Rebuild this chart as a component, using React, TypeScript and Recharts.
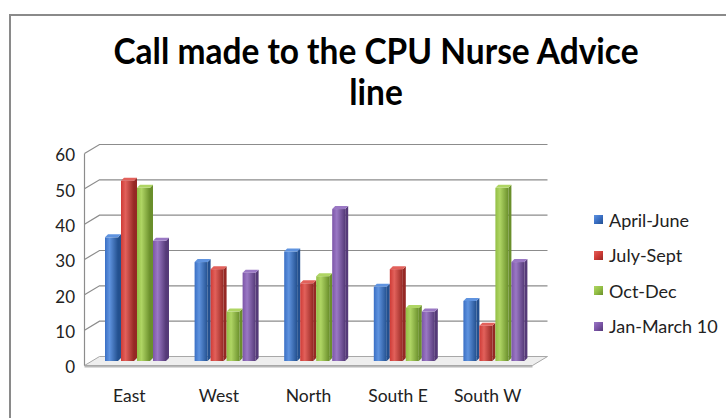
import { BarChart, Bar, XAxis, YAxis, CartesianGrid } from "recharts";

const regions = ["East", "West", "North", "South E", "South W"];
const aprilJune = [35, 28, 31, 21, 17];
const julySept = [51, 26, 22, 26, 10];
const octDec = [49, 14, 24, 15, 49];
const janMarch10 = [34, 25, 43, 14, 28];
const yTicks = [0, 10, 20, 30, 40, 50, 60];

const series = [
  { key: "aprilJune", name: "April-June", light: "#5f93df", base: "#3a6fc4", dark: "#23508f" },
  { key: "julySept", name: "July-Sept", light: "#e2615b", base: "#cf3b36", dark: "#952824" },
  { key: "octDec", name: "Oct-Dec", light: "#afd564", base: "#93bf45", dark: "#6a8f2b" },
  { key: "janMarch10", name: "Jan-March 10", light: "#9a78c4", base: "#7c55a8", dark: "#553a78" },
];

const data = regions.map((region, i) => ({
  region,
  aprilJune: aprilJune[i],
  julySept: julySept[i],
  octDec: octDec[i],
  janMarch10: janMarch10[i],
}));

const W = 726;
const H = 418;
const TOP = 149;
const XAXIS_H = 57;
const PLOT_BOTTOM = H - XAXIS_H;
// half depth of the 3d box (front plane vs back wall)
const DX = 7.5;
const DY = 4.5;
const FONT = "Lato, 'Open Sans', sans-serif";

function Bar3D(props: any) {
  const { x, y, width, height, s } = props;
  if (!height || height <= 0) return null;
  const d = 3;
  const fw = width - d;
  return (
    <g>
      <rect x={x} y={y} width={fw} height={height} fill={`url(#grad-${s.key})`} />
      <polygon
        points={`${x + fw},${y} ${x + width},${y - d} ${x + width},${y + height - d} ${x + fw},${y + height}`}
        fill={s.dark}
      />
      <polygon
        points={`${x},${y} ${x + d},${y - d} ${x + width},${y - d} ${x + fw},${y}`}
        fill={s.light}
      />
    </g>
  );
}

function GridLine(p: any) {
  const y = p.y1;
  const fl = p.x1 - DX;
  const bl = p.x1 + DX;
  const br = p.x2 + DX;
  const fr = p.x2 - DX;
  if (Math.abs(y - PLOT_BOTTOM) < 2) {
    return (
      <g key={p.key}>
        <rect x={fl} y={y + DY} width={fr - fl} height={2} fill="#b8b8b8" />
        <polygon
          points={`${fl},${y + DY} ${fr},${y + DY} ${br},${y - DY} ${bl},${y - DY}`}
          fill="#eeeeee"
          stroke="#a8a8a8"
          strokeWidth={1}
        />
      </g>
    );
  }
  return (
    <path
      key={p.key}
      d={`M${fl},${y + DY} L${bl},${y - DY} L${br},${y - DY}`}
      fill="none"
      stroke="#8c8c8c"
      strokeWidth={1.2}
    />
  );
}

function YTick({ x, y, payload }: any) {
  return (
    <text x={x - 17} y={y + 8} textAnchor="end" dominantBaseline="middle" fill="#222" fontSize={17} fontFamily={FONT}>
      {payload.value}
    </text>
  );
}

function XTick({ x, y, payload }: any) {
  return (
    <text x={x - DX} y={y + 37} textAnchor="middle" dominantBaseline="middle" fill="#222" fontSize={17.5} fontFamily={FONT}>
      {payload.value}
    </text>
  );
}

export default function App() {
  return (
    <div style={{ position: "absolute", left: 0, top: 0, width: W, height: H, overflow: "hidden", background: "#fff" }}>
      <div
        style={{
          position: "absolute",
          left: 9,
          top: 14,
          width: 740,
          height: 440,
          border: "2px solid #8a8a8a",
          boxSizing: "border-box",
        }}
      />
      <div
        style={{
          position: "absolute",
          left: 26,
          top: 30,
          width: 700,
          textAlign: "center",
          fontFamily: FONT,
          fontWeight: 700,
          fontSize: 36,
          lineHeight: "41px",
          color: "#000",
          transform: "scaleX(0.93)",
          transformOrigin: "350px 0",
        }}
      >
        Call made to the CPU Nurse Advice
        <br />
        line
      </div>
      <BarChart
        width={W}
        height={H}
        data={data}
        margin={{ top: TOP, right: 186, left: 0, bottom: 0 }}
        barCategoryGap="14%"
        barGap={0}
        style={{ position: "absolute", left: 0, top: 0 }}
      >
        <defs>
          {series.map((s) => (
            <linearGradient key={s.key} id={`grad-${s.key}`} x1="0" y1="0" x2="1" y2="0">
              <stop offset="0" stopColor={s.base} />
              <stop offset="0.35" stopColor={s.light} />
              <stop offset="1" stopColor={s.dark} />
            </linearGradient>
          ))}
        </defs>
        <CartesianGrid horizontal={GridLine} vertical={false} />
        <XAxis
          dataKey="region"
          height={XAXIS_H}
          axisLine={false}
          tickLine={false}
          tickSize={0}
          tickMargin={0}
          tick={<XTick />}
          interval={0}
        />
        <YAxis
          width={92}
          domain={[0, 60]}
          ticks={yTicks}
          axisLine={{ stroke: "#8c8c8c", strokeWidth: 1.2, transform: `translate(${-DX},${DY})` }}
          tickLine={false}
          tickSize={0}
          tickMargin={0}
          tick={<YTick />}
        />
        {series.map((s) => (
          <Bar
            key={s.key}
            dataKey={s.key}
            name={s.name}
            barSize={16}
            fill={s.base}
            isAnimationActive={false}
            shape={(p: any) => <Bar3D {...p} s={s} />}
          />
        ))}
      </BarChart>
      <div style={{ position: "absolute", left: 594, top: 202 }}>
        {series.map((s) => (
          <div key={s.key} style={{ display: "flex", alignItems: "center", height: 35.5 }}>
            <span
              style={{
                width: 9,
                height: 9,
                marginRight: 6,
                background: `linear-gradient(135deg, ${s.light}, ${s.base} 50%, ${s.dark})`,
              }}
            />
            <span style={{ fontFamily: FONT, fontSize: 18, color: "#222", whiteSpace: "nowrap" }}>{s.name}</span>
          </div>
        ))}
      </div>
    </div>
  );
}
